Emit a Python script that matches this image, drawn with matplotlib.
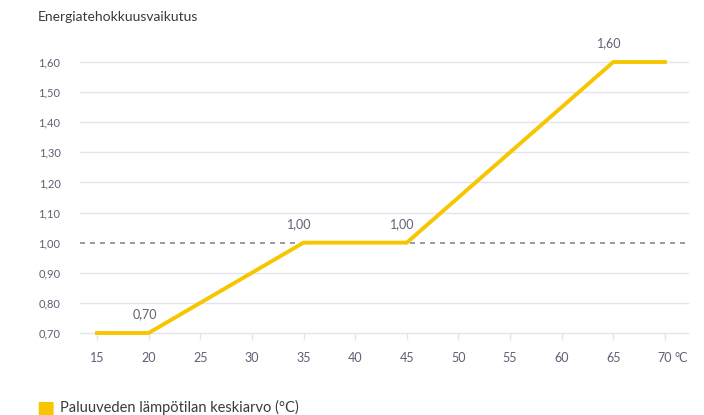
import matplotlib.pyplot as plt

# Datos del gráfico
temps = [15, 20, 35, 45, 65, 70]
effect = [0.70, 0.70, 1.00, 1.00, 1.60, 1.60]
label_idx = [1, 2, 3, 4]
x_ticks = [15, 20, 25, 30, 35, 40, 45, 50, 55, 60, 65, 70]
y_ticks = [0.70, 0.80, 0.90, 1.00, 1.10, 1.20, 1.30, 1.40, 1.50, 1.60]

plt.rcParams['font.family'] = ['Lato', 'DejaVu Sans']

yellow = '#f7c600'
txt = '#5f5f75'
grid = '#e4e4ee'

fig = plt.figure(figsize=(7.04, 4.15), dpi=100)
ax = fig.add_axes([0.1136, 0.1976, 0.8636, 0.653])

# Líneas de cuadrícula horizontales (excepto 1,00 que va discontinua)
for yv in y_ticks:
    if abs(yv - 1.0) < 1e-9:
        ax.axhline(yv, color='#8a8a95', lw=1.2, ls=(0, (3, 3)), zorder=1)
    else:
        ax.axhline(yv, color=grid, lw=1.0, zorder=1, clip_on=False)

ax.plot(temps, effect, color=yellow, lw=2.8, solid_joinstyle='miter',
        zorder=3, clip_on=False)

for i in label_idx:
    ax.annotate(f"{effect[i]:.2f}".replace('.', ','), (temps[i], effect[i]),
                xytext=(-3, 9), textcoords='offset points', ha='center',
                va='bottom', fontsize=9, color=txt)

ax.set_xlim(13.35, 72.23)
ax.set_ylim(0.70, 1.60)
ax.set_xticks(x_ticks)
ax.set_xticklabels([str(t) for t in x_ticks])
ax.set_yticks(y_ticks)
ax.set_yticklabels([f"{v:.2f}".replace('.', ',') for v in y_ticks])
ax.tick_params(axis='x', length=5, width=1, color=grid, pad=9,
               labelsize=9, labelcolor=txt)
ax.tick_params(axis='y', length=0, pad=14, labelsize=8, labelcolor=txt)
for s in ax.spines.values():
    s.set_visible(False)

# Unidad junto al último valor del eje x
ax.annotate('°C', (70, 0.70), xytext=(7, -14), textcoords='offset points',
            ha='left', va='top', fontsize=9, color=txt,
            annotation_clip=False)

fig.text(0.054, 0.958, 'Energiatehokkuusvaikutus', fontsize=10,
         color='#3a3a3a', ha='left', va='center')

# Leyenda
fig.text(0.052, 0.018, '\u25a0', fontsize=14, color=yellow, ha='left',
         va='center')
fig.text(0.085, 0.018, 'Paluuveden lämpötilan keskiarvo (°C)', fontsize=10.5,
         color='#3a3a3a', ha='left', va='center')

fig.savefig('out.png', dpi=100)
plt.close(fig)
